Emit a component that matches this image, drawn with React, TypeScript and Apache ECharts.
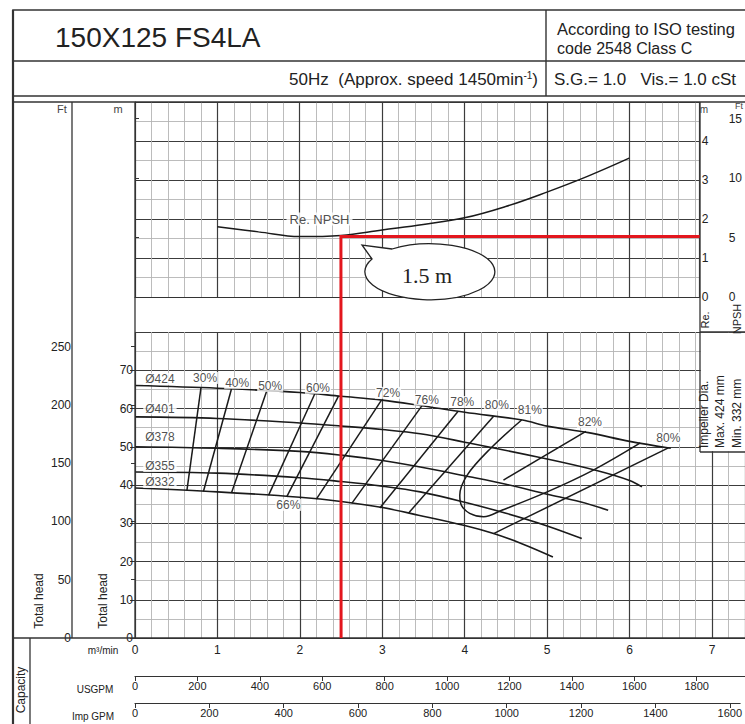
import React, { useEffect, useRef } from "react";
import * as echarts from "echarts";

// ---------------- data ----------------
// Capacity in m3/min, head in m
const head424 = [[0, 66], [1, 65.3], [2, 64.2], [2.5, 63.2], [3, 62.2], [3.46, 60.8], [4, 59], [4.7, 57], [5, 55.4], [5.5, 53.7], [6, 51.4], [6.5, 49.6]];
const head401 = [[0, 57.8], [1, 57.4], [2, 56.2], [2.5, 55.4], [3, 54.5], [3.46, 53.4], [4, 51.2], [5, 46.8], [5.6, 43.8], [6, 41.2], [6.15, 39.5]];
const head378 = [[0, 50], [1, 49.6], [2, 48.8], [2.5, 47.8], [3, 46.4], [3.46, 44.7], [4, 42.4], [4.5, 40.2], [5, 37.6], [5.4, 35.6], [5.74, 33.4]];
const head355 = [[0, 43.4], [1, 43.1], [2, 41.9], [2.5, 40.9], [3, 39.7], [3.46, 38.2], [4, 35.5], [4.5, 32.6], [5, 29.3], [5.42, 26.0]];
const head332 = [[0, 39.2], [1, 38.2], [2, 36.8], [2.5, 35.7], [3, 34.1], [3.44, 32.1], [4, 29.4], [4.35, 27.3], [4.7, 24.6], [5.07, 21.2]];
const headCurves = [head424, head401, head378, head355, head332];

const diaNames = ["Ø424", "Ø401", "Ø378", "Ø355", "Ø332"];
const diaLabelPos = [[0.1, 67.7], [0.1, 60], [0.1, 52.5], [0.1, 45], [0.1, 40.8]];

// iso-efficiency lines
const eff30 = [[0.8, 65.4], [0.63, 38.6]];
const eff40 = [[1.17, 65.1], [0.83, 38.3]];
const eff50 = [[1.6, 64.7], [1.17, 37.9]];
const eff60 = [[2.18, 63.8], [1.62, 37.3]];
const eff66 = [[2.47, 63.3], [1.84, 36.9]];
const eff72 = [[2.99, 62.2], [2.2, 36.3]];
const eff76 = [[3.48, 60.7], [2.63, 35.2]];
const eff78 = [[3.92, 59.3], [2.97, 34.0]];
const eff80L = [[4.35, 58.0], [3.32, 32.7]];
const eff81Loop = [[4.69, 57.0], [4.31, 49.5], [4.03, 42.6], [3.94, 37.3], [3.96, 34.7], [4.06, 32.6], [4.23, 31.7], [4.45, 33.4], [5.0, 38.2], [5.56, 43.9], [6.13, 51.0]];
const eff82 = [[5.47, 54.0], [4.47, 41.3]];
const eff80R = [[6.47, 49.7], [4.35, 27.3]];
const effLines = [eff30, eff40, eff50, eff60, eff66, eff72, eff76, eff78, eff80L, eff82, eff80R];

const pctLabels: [number, number, string][] = [
  [0.85, 68.0, "30%"], [1.24, 66.7, "40%"], [1.64, 65.9, "50%"], [2.22, 65.4, "60%"],
  [3.07, 64.1, "72%"], [3.54, 62.3, "76%"], [3.97, 61.7, "78%"], [4.39, 60.9, "80%"],
  [4.79, 59.6, "81%"], [5.52, 56.5, "82%"], [6.47, 52.3, "80%"], [1.86, 34.8, "66%"],
];

// required NPSH in m
const npsh = [[1.0, 1.8], [1.5, 1.67], [2.0, 1.55], [2.5, 1.58], [3.0, 1.72], [3.5, 1.86], [4.0, 2.03], [4.5, 2.32], [5.0, 2.69], [5.5, 3.1], [6.0, 3.56]];
const npshLabelPos = [2.24, 2.0];

// duty point
const dutyQ = 2.5;
const dutyNpsh = 1.55;
const dutyText = "1.5 m";

// axis ticks
const ftHeadTicks = [0, 50, 100, 150, 200, 250];
const ftNpshTicks = [0, 5, 10, 15];

// ---------------- constants ----------------
const Q_MAX_UP = 6.855;
const Q_MAX_LOW = 7.4;
const US_PER_M3 = 264.172;
const IMP_PER_M3 = 219.969;
const FT_PER_M = 1 / 0.3048;

const FONT = "'Liberation Sans', Arial, sans-serif";
const INK = "#222";
const FRAME = "#333";
const major = { color: "#3c3c3c", width: 1.2 };
const minor = { color: "#b4b4b4", width: 0.9 };

function xMinor(gridIndex: number, max: number) {
  return {
    type: "value", gridIndex, position: "bottom", min: 0, max, interval: 0.2,
    axisLine: { show: false }, axisTick: { show: false }, axisLabel: { show: false },
    splitLine: { show: true, lineStyle: minor },
  };
}
function xMajor(gridIndex: number, max: number, labels: boolean) {
  return {
    type: "value", gridIndex, position: "bottom", min: 0, max, interval: 1,
    axisLine: { show: true, onZero: false, lineStyle: { color: FRAME, width: 1.2 } },
    axisTick: { show: false },
    axisLabel: labels
      ? { show: true, showMaxLabel: false, fontSize: 12, color: INK, margin: 6, fontFamily: FONT }
      : { show: false },
    splitLine: { show: true, lineStyle: major },
  };
}
function flowAxis(gridIndex: number, max: number) {
  return {
    type: "value", gridIndex, min: 0, max, interval: 200, position: "bottom",
    axisLine: { show: true, onZero: false, lineStyle: { color: FRAME, width: 1.2 } },
    axisTick: { show: true, length: 5, lineStyle: { color: FRAME } },
    axisLabel: {
      show: true, showMaxLabel: false, fontSize: 11, color: INK, margin: 4, fontFamily: FONT,
      formatter: (v: number) => String(Math.round(v)),
    },
    splitLine: { show: false },
  };
}

const lowerLine = (data: number[][], smooth: number | boolean, width = 1.6) => ({
  type: "line", xAxisIndex: 3, yAxisIndex: 2, data, showSymbol: false, symbol: "none",
  smooth, silent: true, lineStyle: { color: "#1a1a1a", width }, z: 3, animation: false,
});

function buildOption() {
  const series: any[] = [];
  // 0: NPSH curve (upper grid)
  series.push({
    type: "line", xAxisIndex: 1, yAxisIndex: 0, data: npsh, showSymbol: false, symbol: "none",
    smooth: 0.4, silent: true, lineStyle: { color: "#1a1a1a", width: 1.5 }, z: 3,
  });
  // head curves
  headCurves.forEach((c) => series.push(lowerLine(c, 0.35)));
  effLines.forEach((c) => series.push(lowerLine(c, false, 1.5)));
  series.push(lowerLine(eff81Loop, 0.35, 1.5));
  // percent labels
  series.push({
    type: "scatter", xAxisIndex: 3, yAxisIndex: 2, symbolSize: 0, silent: true, z: 5,
    data: pctLabels.map((d) => ({ value: [d[0], d[1]], name: d[2] })),
    label: {
      show: true, position: "inside", formatter: "{b}", fontSize: 12, color: INK, fontFamily: FONT,
      backgroundColor: "#fff", padding: [0, 1],
    },
  });
  // diameter labels
  series.push({
    type: "scatter", xAxisIndex: 3, yAxisIndex: 2, symbolSize: 0, silent: true, z: 5,
    data: diaNames.map((n, i) => ({ value: diaLabelPos[i], name: n })),
    label: {
      show: true, position: "right", distance: 0, formatter: "{b}", fontSize: 12, color: INK,
      fontFamily: FONT, backgroundColor: "#fff", padding: [0, 2],
    },
  });
  // NPSH label
  series.push({
    type: "scatter", xAxisIndex: 1, yAxisIndex: 0, symbolSize: 0, silent: true, z: 5,
    data: [{ value: npshLabelPos, name: "Re. NPSH" }],
    label: {
      show: true, position: "inside", formatter: "{b}", fontSize: 13, color: INK,
      fontFamily: FONT, backgroundColor: "#fff", padding: [0, 3],
    },
  });

  return {
    animation: false,
    backgroundColor: "#fff",
    textStyle: { fontFamily: FONT },
    grid: [
      { left: 135, top: 102, width: 565, height: 195 },
      { left: 135, top: 332, width: 610, height: 306 },
      { left: 135, top: 670, width: 610, height: 6 },
      { left: 135, top: 697, width: 610, height: 6 },
    ],
    xAxis: [
      xMinor(0, Q_MAX_UP),
      xMajor(0, Q_MAX_UP, false),
      xMinor(1, Q_MAX_LOW),
      xMajor(1, Q_MAX_LOW, true),
      flowAxis(2, Q_MAX_LOW * US_PER_M3),
      flowAxis(3, Q_MAX_LOW * IMP_PER_M3),
    ],
    yAxis: [
      {
        type: "value", gridIndex: 0, position: "right", min: 0, max: 5, interval: 1,
        axisLine: { show: false },
        axisTick: { show: true, length: 5, lineStyle: { color: FRAME } },
        axisLabel: { show: true, showMaxLabel: false, fontSize: 12, color: INK, margin: 2, fontFamily: FONT },
        splitLine: { show: true, lineStyle: major },
        minorTick: { show: false, splitNumber: 2 },
        minorSplitLine: { show: true, lineStyle: minor },
      },
      {
        type: "value", gridIndex: 0, position: "right", offset: 25, min: 0, max: 5 * FT_PER_M,
        axisLine: { show: true, lineStyle: { color: FRAME, width: 1 } },
        axisTick: { show: true, length: 4, customValues: ftNpshTicks, lineStyle: { color: FRAME } },
        axisLabel: { show: true, customValues: ftNpshTicks, fontSize: 12, color: INK, margin: 4, fontFamily: FONT },
        splitLine: { show: false },
      },
      {
        type: "value", gridIndex: 1, position: "left", min: 0, max: 80, interval: 10,
        axisLine: { show: false },
        axisTick: { show: true, length: 5, lineStyle: { color: FRAME } },
        axisLabel: { show: true, showMaxLabel: false, fontSize: 12, color: INK, margin: 2, fontFamily: FONT },
        splitLine: { show: true, lineStyle: major },
        minorTick: { show: false, splitNumber: 2 },
        minorSplitLine: { show: true, lineStyle: minor },
      },
      {
        type: "value", gridIndex: 1, position: "left", offset: 63, min: 0, max: 80 * FT_PER_M,
        axisLine: { show: false },
        axisTick: { show: true, length: 4, customValues: ftHeadTicks, lineStyle: { color: FRAME } },
        axisLabel: { show: true, customValues: ftHeadTicks, fontSize: 12, color: INK, margin: 1, fontFamily: FONT },
        splitLine: { show: false },
      },
      { type: "value", gridIndex: 2, show: false, min: 0, max: 1 },
      { type: "value", gridIndex: 3, show: false, min: 0, max: 1 },
    ],
    series,
  };
}

const ln = (x1: number, y1: number, x2: number, y2: number, w = 1.4, z = 40) => ({
  type: "line", z, silent: true,
  shape: { x1, y1, x2, y2 },
  style: { stroke: FRAME, lineWidth: w },
});
const txt = (text: string, x: number, y: number, size: number, align = "left", opts: any = {}) => ({
  type: "text", z: opts.z || 45, silent: true, x, y, rotation: opts.rotation || 0,
  style: {
    text, x: 0, y: 0, fill: opts.fill || INK, font: `${size}px ${opts.family || FONT}`,
    align, verticalAlign: "middle",
  },
});

let registered = false;

export default function App() {
  const ref = useRef<HTMLDivElement>(null);
  useEffect(() => {
    document.body.style.margin = "0";
    if (!registered) {
      // callout bubble (ellipse with tail)
      const d = "M 392 249 L 362 245 L 372 259 A 65 28 0 1 0 392 249 Z";
      echarts.graphic.registerShape("callout", echarts.graphic.extendPath(d, {}));
      registered = true;
    }
    const chart = echarts.init(ref.current!, null, { renderer: "svg" });
    chart.setOption(buildOption() as any);

    const pCorner = chart.convertToPixel({ seriesIndex: 0 }, [dutyQ, dutyNpsh]) as number[];
    const pRight = chart.convertToPixel({ seriesIndex: 0 }, [Q_MAX_UP, dutyNpsh]) as number[];
    const pBottom = chart.convertToPixel({ seriesIndex: 1 }, [dutyQ, 0]) as number[];

    const rot = Math.PI / 2;
    const elements: any[] = [
      // header frame
      { type: "rect", z: 40, silent: true, shape: { x: 13, y: 10, width: 760, height: 86 }, style: { fill: "none", stroke: FRAME, lineWidth: 1.6 } },
      ln(13, 61, 745, 61),
      ln(546, 10, 546, 96),
      txt("150X125 FS4LA", 55, 37, 28),
      txt("According to ISO testing", 557, 29, 16.5),
      txt("code 2548 Class C", 557, 48, 16),
      {
        type: "text", z: 45, silent: true, x: 538, y: 79,
        style: {
          text: "{a|50Hz  (Approx. speed 1450min}{s|-1}{a|)}", x: 0, y: 0, align: "right", verticalAlign: "middle",
          rich: { a: { font: `17px ${FONT}`, fill: INK }, s: { font: `10px ${FONT}`, fill: INK, verticalAlign: "top", padding: [0, 0, 7, 0] } },
        },
      },
      txt("S.G.= 1.0   Vis.= 1.0 cSt", 554, 79, 17),
      // chart frame
      ln(13, 10, 13, 724, 2.2),
      ln(13, 102, 745, 102),
      ln(72, 102, 72, 638, 1.3),
      ln(135, 102, 135, 638, 1.3),
      ln(700, 102, 700, 452, 1.3),
      ln(700, 332, 745, 332, 1.3),
      ln(13, 638, 745, 638, 1.5),
      ln(30, 638, 30, 724, 1.3),
      // impeller box cover
      { type: "rect", z: 38, silent: true, shape: { x: 700.7, y: 332.7, width: 50, height: 118.6 }, style: { fill: "#fff" } },
      ln(700, 452, 745, 452, 1.3),
      txt("Impeller Dia.", 704, 448, 12, "left", { rotation: rot }),
      txt("Max. 424 mm", 720, 448, 12, "left", { rotation: rot }),
      txt("Min. 332 mm", 737, 448, 12, "left", { rotation: rot }),
      // axis captions
      txt("Ft", 62, 109, 11, "center", { fill: "#444" }),
      txt("m", 118, 109, 11, "center", { fill: "#444" }),
      txt("m", 704, 109, 10, "center", { fill: "#444" }),
      txt("Ft", 739, 106, 9, "center", { fill: "#444" }),
      txt("Re.", 705, 320, 11, "center", { rotation: rot }),
      txt("NPSH", 737, 319, 11, "center", { rotation: rot }),
      txt("Total head", 39, 601, 12, "center", { rotation: rot }),
      txt("Total head", 103, 601, 12, "center", { rotation: rot }),
      txt("Capacity", 21, 690, 12, "center", { rotation: rot }),
      txt("m³/min", 103, 650, 10, "center"),
      txt("USGPM", 95, 689, 10, "center"),
      txt("Imp GPM", 93, 716, 10, "center"),
      // duty point red lines
      {
        type: "polyline", z: 60, silent: true,
        shape: { points: [pRight, pCorner, pBottom] },
        style: { stroke: "#e3161d", lineWidth: 3, fill: "none", lineJoin: "miter" },
      },
      // callout
      { type: "callout", z: 70, silent: true, x: 0, y: 0, style: { fill: "#fff", stroke: "#222", lineWidth: 1.3 } },
      txt(dutyText, 427, 275, 22, "center", { family: "'Liberation Serif', 'DejaVu Serif', serif", z: 71 }),
    ];
    chart.setOption({ graphic: { elements } } as any);
    return () => chart.dispose();
  }, []);
  return <div ref={ref} style={{ width: 745, height: 724 }} />;
}
